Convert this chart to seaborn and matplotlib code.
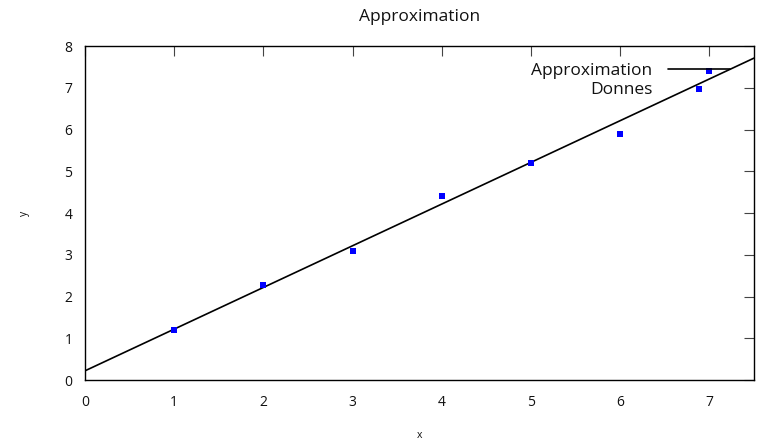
import numpy as np
import pandas as pd
import matplotlib
matplotlib.use('Agg')
import matplotlib.pyplot as plt
import seaborn as sns

# donnees
x_donnes = [1, 2, 3, 4, 5, 6, 7]
y_donnes = [1.2, 2.27, 3.1, 4.4, 5.2, 5.9, 7.4]

# extremites de la droite d'approximation
x_approx = [0, 7.5]
y_approx = [0.22, 7.71]

x_ticks = [0, 1, 2, 3, 4, 5, 6, 7]
y_ticks = [0, 1, 2, 3, 4, 5, 6, 7, 8]

sns.set_theme(style='white')
plt.rcParams['font.family'] = ['Open Sans', 'DejaVu Sans']
plt.rcParams['font.size'] = 10
plt.rcParams['text.color'] = '#111111'
plt.rcParams['axes.labelcolor'] = '#111111'
plt.rcParams['xtick.labelcolor'] = '#111111'
plt.rcParams['ytick.labelcolor'] = '#111111'

df_pts = pd.DataFrame({'x': x_donnes, 'y': y_donnes})
df_line = pd.DataFrame({'x': x_approx, 'y': y_approx})

fig = plt.figure(figsize=(7.63, 4.40), dpi=100)
ax = fig.add_axes([85 / 763, 1 - 380 / 440, (754 - 85) / 763, (380 - 46) / 440])

sns.lineplot(data=df_line, x='x', y='y', ax=ax, color='black', linewidth=1.2,
             label='Approximation')
sns.scatterplot(data=df_pts, x='x', y='y', ax=ax, color='#0000ff', marker='s',
                s=24, linewidth=0, label='Donnes', zorder=3)

ax.set_xlim(0, 7.5)
ax.set_ylim(0, 8)
ax.set_xticks(x_ticks)
ax.set_yticks(y_ticks)
ax.tick_params(direction='in', length=7, width=0.8, color='#444444',
               top=True, right=True, labelsize=10, pad=9)
ax.tick_params(axis='x', pad=11)
for sp in ax.spines.values():
    sp.set_color('black')
    sp.set_linewidth(1.0)

ax.set_xlabel('x', fontsize=7.5, labelpad=14)
ax.set_ylabel('y', fontsize=7.5, labelpad=25)
ax.set_title('Approximation', fontsize=12.5, pad=18)

ax.legend(loc='upper right', frameon=False, markerfirst=False,
          handlelength=3.6, handletextpad=0.9, labelspacing=0.12,
          bbox_to_anchor=(0.988, 0.995), fontsize=12.5)

fig.savefig('out.png', dpi=100)
